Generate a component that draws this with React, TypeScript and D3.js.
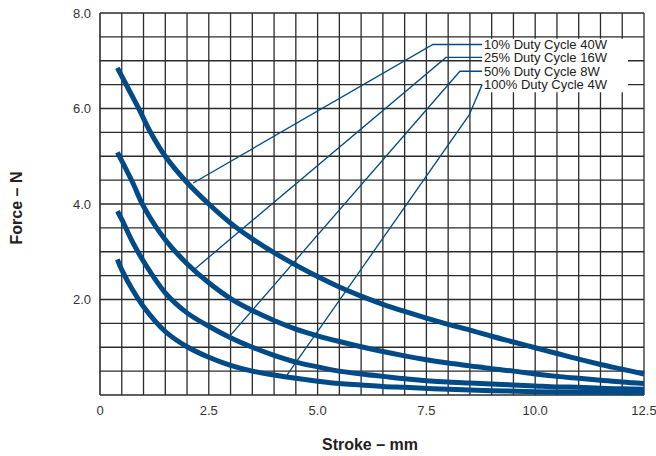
import React from "react";
import * as d3 from "d3";

// ---- data ----
const xTickValues = [0, 2.5, 5, 7.5, 10, 12.5];
const xTickLabels = ["0", "2.5", "5.0", "7.5", "10.0", "12.5"];
const yTickValues = [2, 4, 6, 8];
const yTickLabels = ["2.0", "4.0", "6.0", "8.0"];

const seriesNames = [
  "10% Duty Cycle 40W",
  "25% Duty Cycle 16W",
  "50% Duty Cycle 8W",
  "100% Duty Cycle 4W",
];

const duty10: [number, number][] = [
  [0.4, 6.85], [0.7, 6.33], [0.9, 5.98], [1.15, 5.52], [1.5, 5.0], [2.0, 4.45],
  [2.5, 4.0], [3.0, 3.6], [3.5, 3.27], [4.0, 2.98], [4.5, 2.72], [5.0, 2.48],
  [5.5, 2.26], [6.0, 2.07], [6.5, 1.9], [7.0, 1.75], [7.5, 1.61], [8.0, 1.48],
  [8.5, 1.36], [9.0, 1.23], [9.5, 1.11], [10.0, 0.99], [10.5, 0.87], [11.0, 0.75],
  [11.5, 0.64], [12.0, 0.54], [12.5, 0.44],
];
const duty25: [number, number][] = [
  [0.4, 5.08], [0.75, 4.45], [1.0, 3.95], [1.5, 3.25], [2.0, 2.75], [2.5, 2.35],
  [3.0, 2.02], [3.5, 1.77], [4.0, 1.56], [4.5, 1.38], [5.0, 1.24], [5.5, 1.12],
  [6.0, 1.01], [6.5, 0.91], [7.0, 0.82], [7.5, 0.74], [8.0, 0.67], [8.5, 0.61],
  [9.0, 0.55], [9.5, 0.5], [10.0, 0.44], [10.5, 0.39], [11.0, 0.35], [11.5, 0.31],
  [12.0, 0.27], [12.5, 0.24],
];
const duty50: [number, number][] = [
  [0.4, 3.85], [0.5, 3.68], [0.75, 3.2], [1.0, 2.8], [1.5, 2.14], [2.0, 1.72],
  [2.5, 1.44], [3.0, 1.2], [3.5, 1.0], [4.0, 0.83], [4.5, 0.69], [5.0, 0.59],
  [5.5, 0.5], [6.0, 0.44], [6.5, 0.39], [7.0, 0.34], [7.5, 0.3], [8.0, 0.27],
  [8.5, 0.25], [9.0, 0.23], [9.5, 0.21], [10.0, 0.19], [10.5, 0.17], [11.0, 0.16],
  [11.5, 0.14], [12.0, 0.13], [12.5, 0.12],
];
const duty100: [number, number][] = [
  [0.4, 2.84], [0.5, 2.62], [0.75, 2.2], [1.0, 1.85], [1.5, 1.33], [2.0, 1.01],
  [2.5, 0.79], [3.0, 0.62], [3.5, 0.5], [4.0, 0.42], [4.5, 0.35], [5.0, 0.29],
  [5.5, 0.24], [6.0, 0.21], [6.5, 0.18], [7.0, 0.16], [8.0, 0.12], [9.0, 0.09],
  [10.0, 0.07], [11.0, 0.06], [12.0, 0.05], [12.5, 0.05],
];

// leader lines (data coordinates): curve point -> bend -> label
const leader10: [number, number][] = [[2.14, 4.44], [7.65, 7.34], [8.78, 7.34]];
const leader25: [number, number][] = [[2.18, 2.64], [7.95, 7.07], [8.78, 7.07]];
const leader50: [number, number][] = [[2.94, 1.19], [8.27, 6.78], [8.78, 6.78]];
const leader100: [number, number][] = [[4.3, 0.42], [8.48, 5.86], [8.78, 6.5]];

const seriesData = [duty10, duty25, duty50, duty100];
const leaders = [leader10, leader25, leader50, leader100];

const BLUE = "#004b87";
const GRID = "#2b2b2b";

export default function App() {
  const x = d3.scaleLinear().domain([0, 12.5]).range([100, 644]);
  const y = d3.scaleLinear().domain([0, 8]).range([395, 13]);

  const gridX = d3.range(0, 12.5 + 0.001, 0.5);
  const gridY = d3.range(0, 8 + 0.001, 0.5);

  const curve = d3
    .line<[number, number]>()
    .x((d) => x(d[0]))
    .y((d) => y(d[1]))
    .curve(d3.curveCatmullRom.alpha(0.5));
  const straight = d3
    .line<[number, number]>()
    .x((d) => x(d[0]))
    .y((d) => y(d[1]));

  // label box
  const boxX0 = x(8.78);
  const boxX1 = x(12.13);
  const boxY0 = y(7.46);
  const boxY1 = y(6.34);

  return (
    <svg
      width={656}
      height={456}
      style={{ position: "absolute", left: 0, top: 0, background: "#fff" }}
      fontFamily="'Liberation Sans', Arial, Helvetica, sans-serif"
    >
      <rect x={0} y={0} width={656} height={456} fill="#fff" />
      <g>
        {gridX.map((v, i) => (
          <line
            key={"gx" + i}
            x1={x(v)}
            x2={x(v)}
            y1={y(0)}
            y2={y(8)}
            stroke={GRID}
            strokeWidth={i === 0 ? 1.6 : 1.3}
          />
        ))}
        {gridY.map((v, i) => (
          <line
            key={"gy" + i}
            x1={x(0)}
            x2={x(12.5)}
            y1={y(v)}
            y2={y(v)}
            stroke={GRID}
            strokeWidth={i === 0 ? 1.6 : 1.3}
          />
        ))}
      </g>
      <rect x={boxX0} y={boxY0} width={boxX1 - boxX0} height={boxY1 - boxY0} fill="#fff" />
      <g>
        {leaders.map((l, i) => (
          <path key={"ld" + i} d={straight(l) || ""} fill="none" stroke={BLUE} strokeWidth={1.3} />
        ))}
      </g>
      <g>
        {seriesData.map((s, i) => (
          <path
            key={"s" + i}
            d={curve(s) || ""}
            fill="none"
            stroke={BLUE}
            strokeWidth={5}
            strokeLinecap="butt"
          />
        ))}
      </g>
      <g fontSize={13} fill="#222">
        {seriesNames.map((n, i) => (
          <text key={"n" + i} x={boxX0 + 2} y={y(leaders[i][2][1]) + 4.6}>
            {n}
          </text>
        ))}
      </g>
      <g fontSize={13} fill="#333">
        {xTickValues.map((v, i) => (
          <text key={"xt" + i} x={x(v)} y={415} textAnchor="middle">
            {xTickLabels[i]}
          </text>
        ))}
        {yTickValues.map((v, i) => (
          <text key={"yt" + i} x={91} y={y(v) + 4.7} textAnchor="end">
            {yTickLabels[i]}
          </text>
        ))}
      </g>
      <text x={370} y={450} textAnchor="middle" fontWeight="bold" fontSize={16} fill="#222">
        Stroke – mm
      </text>
      <text
        transform={`translate(22,208) rotate(-90)`}
        textAnchor="middle"
        fontWeight="bold"
        fontSize={16}
        fill="#222"
      >
        Force – N
      </text>
    </svg>
  );
}
